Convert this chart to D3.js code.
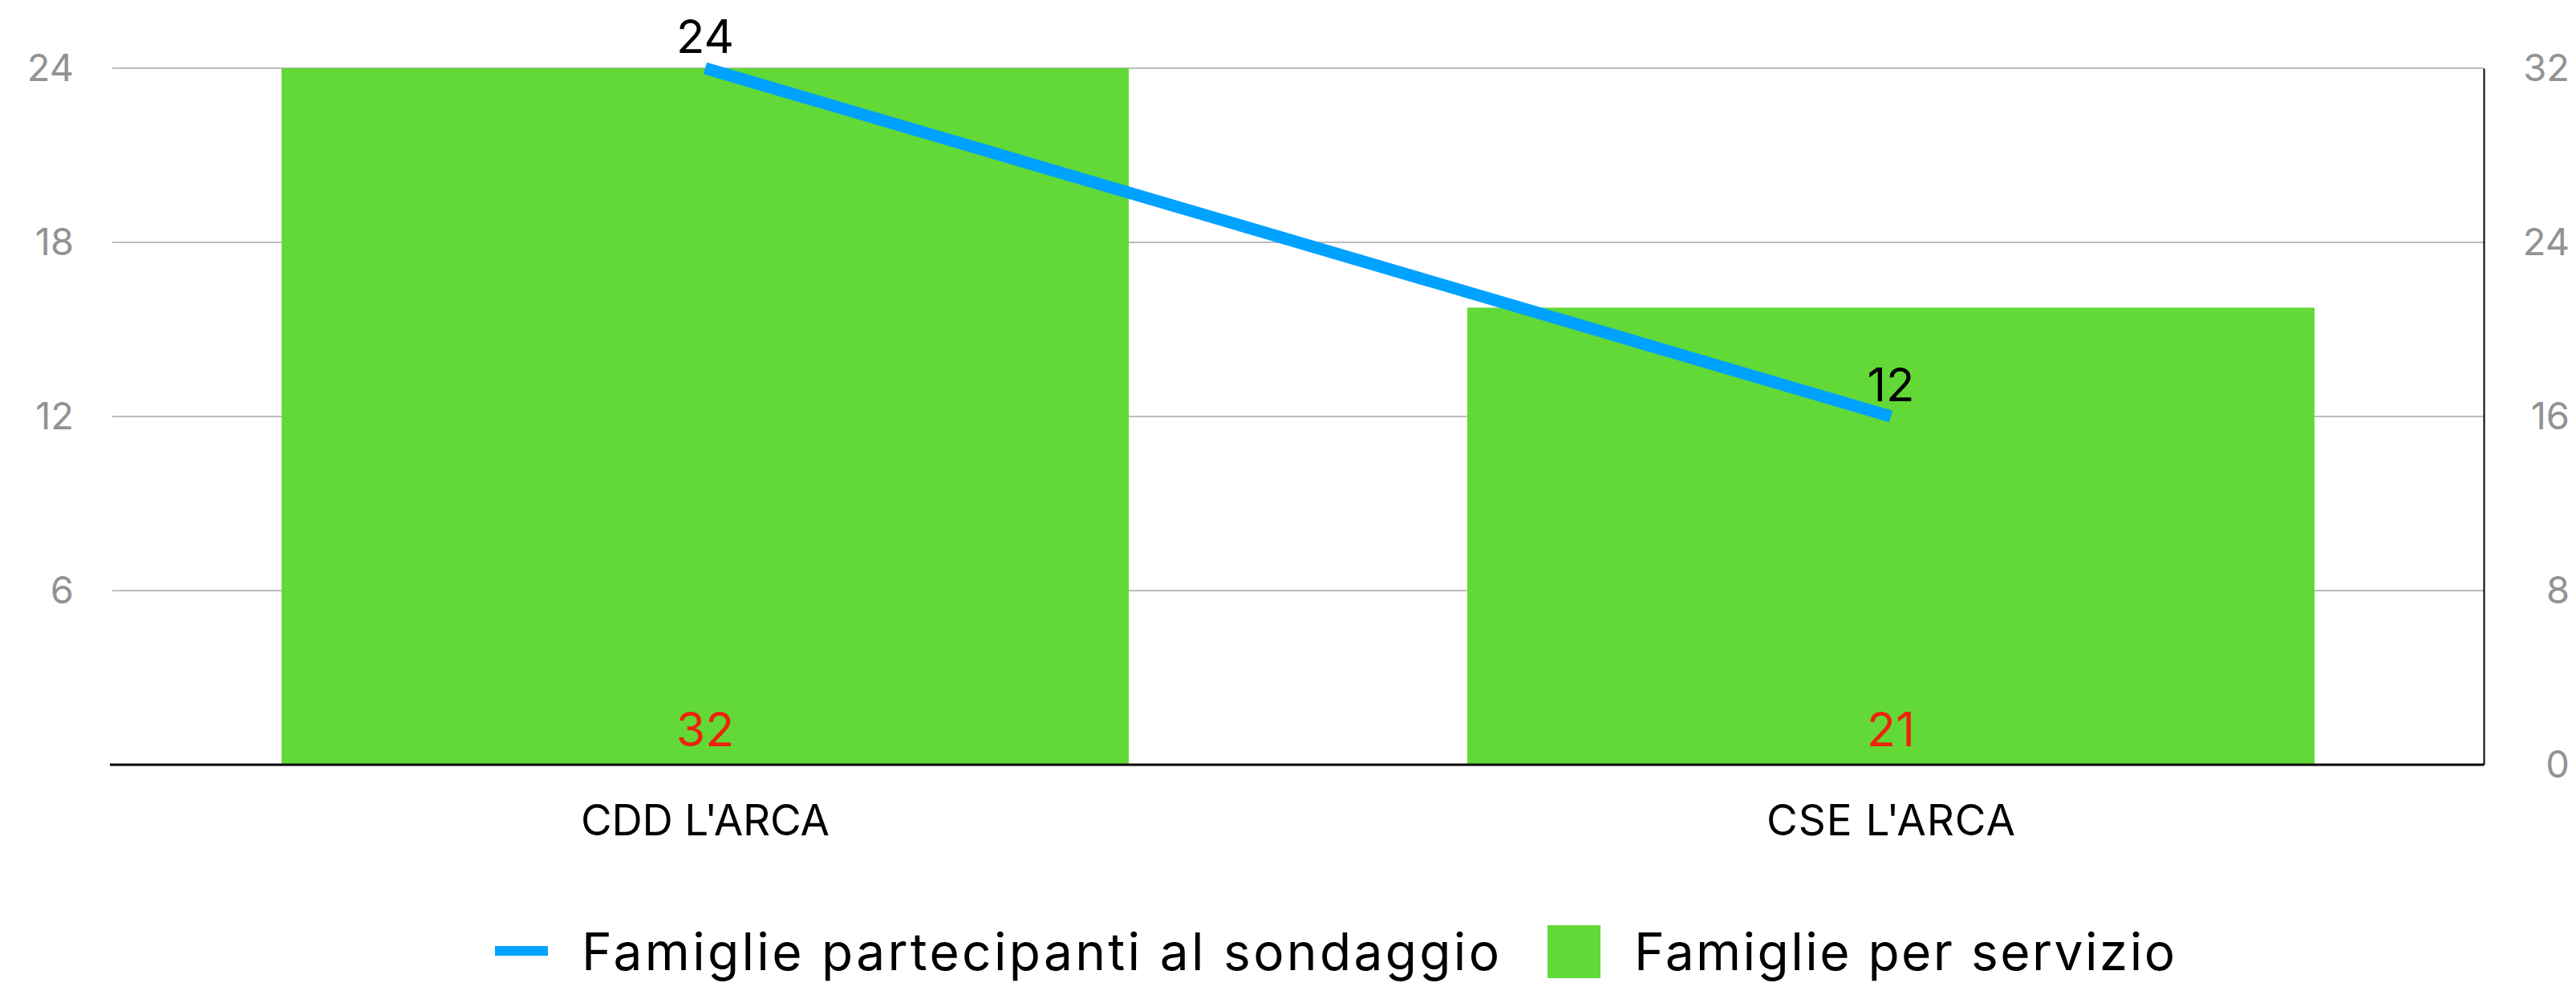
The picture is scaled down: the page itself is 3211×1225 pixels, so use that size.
<!DOCTYPE html>
<html><head><meta charset="utf-8">
<script src="https://cdn.jsdelivr.net/npm/d3@7"></script>
<style>body{margin:0;background:#fff}</style>
</head><body>
<svg id="c" width="3211" height="1225"></svg>
<script>
const categories = ["CDD L'ARCA", "CSE L'ARCA"];
const familiePerServizio = [32, 21];          // bars, right axis
const famigliePartecipanti = [24, 12];        // line, left axis
const leftTicks = [0, 6, 12, 18, 24];
const rightTicks = [0, 8, 16, 24, 32];
const seriesNames = ["Famiglie partecipanti al sondaggio", "Famiglie per servizio"];

const FONT = "Inter, 'Liberation Sans', Arial, sans-serif";
const svg = d3.select("#c");
const x0 = 140, x1 = 3096, yTop = 85, yBot = 953;

const x = d3.scaleBand().domain(categories).range([x0, x1])
  .paddingInner(0.2855).paddingOuter(0.14275);
const yL = d3.scaleLinear().domain([0, 24]).range([yBot, yTop]);
const yR = d3.scaleLinear().domain([0, 32]).range([yBot, yTop]);

// gridlines
svg.append("g").selectAll("line").data(leftTicks.filter(d => d > 0)).join("line")
  .attr("x1", x0).attr("x2", x1).attr("y1", d => yL(d)).attr("y2", d => yL(d))
  .attr("stroke", "#bdbdbd").attr("stroke-width", 2);

// bars
svg.append("g").selectAll("rect").data(categories).join("rect")
  .attr("x", d => x(d)).attr("width", x.bandwidth())
  .attr("y", (d, i) => yR(familiePerServizio[i]))
  .attr("height", (d, i) => yBot - yR(familiePerServizio[i]))
  .attr("fill", "#62d937");

// left axis
const axL = svg.append("g").attr("transform", `translate(${x0},0)`)
  .call(d3.axisLeft(yL).tickValues(leftTicks).tickSize(0).tickPadding(48));
axL.select(".domain").remove();
axL.selectAll("text").filter(d => d === 0).remove();
axL.selectAll("text").attr("font-family", FONT).attr("font-size", 47).attr("fill", "#929292");

// right axis
const axR = svg.append("g").attr("transform", `translate(${x1},0)`)
  .call(d3.axisRight(yR).tickValues(rightTicks).tickSize(0).tickPadding(107));
axR.select(".domain").attr("stroke", "#000").attr("stroke-width", 2);
axR.selectAll("text").attr("font-family", FONT).attr("font-size", 47).attr("fill", "#929292")
  .attr("text-anchor", "end");

// baseline
svg.append("line").attr("x1", 137).attr("x2", x1).attr("y1", yBot).attr("y2", yBot)
  .attr("stroke", "#000").attr("stroke-width", 3);

// x axis labels
const axB = svg.append("g").attr("transform", `translate(0,${yBot})`)
  .call(d3.axisBottom(x).tickSize(0));
axB.select(".domain").remove();
axB.selectAll("text").attr("font-family", FONT).attr("font-size", 53).attr("fill", "#000")
  .attr("dy", null).attr("y", 88).attr("textLength", 310).attr("lengthAdjust", "spacing");

// bar value labels
svg.append("g").selectAll("text").data(categories).join("text")
  .attr("x", d => x(d) + x.bandwidth() / 2).attr("y", yBot - 23)
  .attr("text-anchor", "middle").attr("font-family", FONT).attr("font-size", 59)
  .attr("fill", "#ee220c").text((d, i) => familiePerServizio[i]);

// line
const line = d3.line().x((d, i) => x(categories[i]) + x.bandwidth() / 2).y(d => yL(d));
svg.append("path").datum(famigliePartecipanti).attr("d", line)
  .attr("fill", "none").attr("stroke", "#00a2ff").attr("stroke-width", 15);

svg.append("g").selectAll("text").data(famigliePartecipanti).join("text")
  .attr("x", (d, i) => x(categories[i]) + x.bandwidth() / 2).attr("y", d => yL(d) - 19)
  .attr("text-anchor", "middle").attr("font-family", FONT).attr("font-size", 58)
  .attr("fill", "#000").text(d => d);

// legend
const lg = svg.append("g");
lg.append("rect").attr("x", 617).attr("y", 1179).attr("width", 66).attr("height", 12).attr("fill", "#00a2ff");
lg.append("text").attr("x", 725).attr("y", 1209).attr("font-family", FONT).attr("font-size", 64)
  .attr("fill", "#000").attr("textLength", 1144).attr("lengthAdjust", "spacing").text(seriesNames[0]);
lg.append("rect").attr("x", 1929).attr("y", 1153).attr("width", 66).attr("height", 66).attr("fill", "#62d937");
lg.append("text").attr("x", 2037).attr("y", 1209).attr("font-family", FONT).attr("font-size", 64)
  .attr("fill", "#000").attr("textLength", 674).attr("lengthAdjust", "spacing").text(seriesNames[1]);
</script>
</body></html>
